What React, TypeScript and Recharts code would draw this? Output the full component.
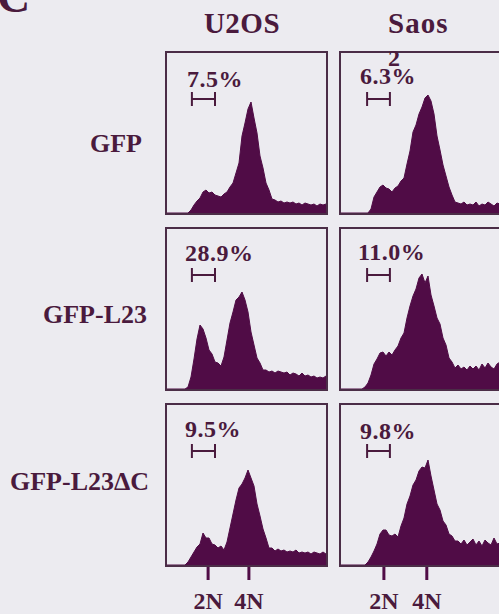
import React from "react";
import { AreaChart, Area, XAxis, YAxis, ReferenceLine } from "recharts";

// ---- labels ----
const cellLines = ["U2OS", "Saos"];
const constructs = ["GFP", "GFP-L23", "GFP-L23ΔC"];
const apoptoticPct = [
  ["7.5%", "6.3%"],
  ["28.9%", "11.0%"],
  ["9.5%", "9.8%"],
];
const ploidyLabels = ["2N", "4N"];
const ploidyTicksU2OS = [13.7, 27.3];
const ploidyTicksSaos = [14.3, 28.6];
const gateU2OS = [8.3, 16];
const gateSaos = [8.7, 16.3];
const gateLevel = 114;

// ---- histogram counts (DNA content channel bins) ----
const u2osGfp = [0, 0, 0, 0, 0, 0, 0, 0, 3, 8, 12, 15, 21, 23, 20, 21, 18, 17, 16, 19, 21, 26, 30, 40, 50, 77, 90, 104, 111, 95, 80, 57, 45, 30, 23, 14, 13, 11, 12, 10, 11, 10, 11, 9, 10, 8, 10, 9, 8, 9, 7, 9, 8, 9];
const saosGfp = [0, 0, 0, 0, 0, 0, 0, 0, 0, 0, 4, 16, 21, 26, 28, 25, 24, 21, 25, 27, 32, 35, 49, 62, 81, 88, 99, 106, 115, 118, 112, 99, 77, 63, 48, 37, 26, 18, 11, 10, 9, 11, 8, 9, 8, 11, 7, 9, 8, 11, 9, 7, 10, 9, 8, 10];
const u2osL23 = [0, 0, 0, 0, 0, 0, 0, 2, 12, 30, 50, 64, 60, 51, 39, 35, 27, 26, 23, 32, 49, 66, 77, 89, 92, 97, 89, 77, 57, 44, 31, 26, 19, 19, 17, 18, 16, 18, 17, 16, 17, 14, 16, 15, 13, 16, 13, 14, 12, 13, 11, 12, 11, 13];
const saosL23 = [0, 0, 0, 0, 0, 0, 0, 0, 2, 6, 14, 25, 30, 36, 37, 33, 37, 34, 39, 43, 51, 56, 71, 83, 93, 100, 111, 115, 106, 113, 94, 83, 71, 65, 51, 44, 31, 27, 21, 24, 20, 22, 19, 23, 20, 23, 19, 25, 21, 26, 22, 20, 25, 27, 21, 24];
const u2osDC = [0, 0, 0, 0, 0, 0, 0, 3, 8, 13, 18, 21, 32, 27, 27, 21, 20, 17, 19, 15, 23, 37, 51, 65, 77, 81, 87, 95, 87, 79, 61, 49, 36, 27, 17, 17, 14, 16, 14, 15, 13, 14, 13, 15, 12, 13, 12, 13, 11, 13, 12, 11, 13, 11];
const saosDC = [0, 0, 0, 0, 0, 0, 0, 0, 0, 3, 8, 14, 21, 31, 35, 35, 30, 29, 31, 28, 39, 47, 61, 69, 80, 85, 94, 98, 97, 105, 89, 75, 61, 55, 44, 40, 31, 29, 24, 24, 21, 25, 20, 23, 26, 20, 24, 19, 25, 22, 20, 27, 21, 22, 24, 21];

const histograms = [
  [u2osGfp, saosGfp],
  [u2osL23, saosL23],
  [u2osDC, saosDC],
];

// ---- style / layout ----
const BG = "#ecebf0";
const FILL = "#500c46";
const TEXT = "#4a1a3d";
const BORDER = "#4b2d47";
const SERIF = "'Liberation Serif', 'DejaVu Serif', 'Times New Roman', serif";

const colLeft = [167, 341];
const colWidth = [159, 165];
const rowTop = [53, 229, 405];
const PLOT_H = 160;
const AXIS_H = 55;

const pctPos = [
  [[187, 87], [360, 84]],
  [[185, 261], [358, 260]],
  [[185, 437], [360, 439]],
];

function Panel({ counts, col, row }: { counts: number[]; col: number; row: number }) {
  const data = counts.map((c, k) => ({ k, c }));
  const bottom = row === 2;
  const gate = col === 0 ? gateU2OS : gateSaos;
  const ticks = col === 0 ? ploidyTicksU2OS : ploidyTicksSaos;
  const w = colWidth[col];
  return (
    <div style={{ position: "absolute", left: colLeft[col], top: rowTop[row] }}>
      <AreaChart
        width={w}
        height={PLOT_H + (bottom ? AXIS_H : 0)}
        data={data}
        margin={{ top: 0, right: 0, bottom: 0, left: 0 }}
      >
        <XAxis
          dataKey="k"
          type="number"
          domain={[0, counts.length - 1]}
          allowDataOverflow
          hide={!bottom}
          height={AXIS_H}
          ticks={ticks}
          interval={0}
          tickFormatter={(v: number) => ploidyLabels[ticks.indexOf(v)] ?? ""}
          axisLine={false}
          tickLine={{ stroke: FILL, strokeWidth: 3 }}
          tickSize={15}
          tickMargin={12}
          tick={{ fill: TEXT, fontSize: 24, fontFamily: SERIF, fontWeight: 700 }}
        />
        <YAxis hide type="number" domain={[0, PLOT_H]} allowDataOverflow />
        <Area
          dataKey="c"
          type="linear"
          stroke={FILL}
          strokeWidth={1}
          fill={FILL}
          fillOpacity={1}
          dot={false}
          activeDot={false}
          isAnimationActive={false}
        />
        <ReferenceLine
          segment={[{ x: gate[0], y: gateLevel }, { x: gate[1], y: gateLevel }]}
          stroke={TEXT}
          strokeWidth={2}
          ifOverflow="visible"
        />
        <ReferenceLine
          segment={[{ x: gate[0], y: gateLevel - 7 }, { x: gate[0], y: gateLevel + 7 }]}
          stroke={TEXT}
          strokeWidth={2}
          ifOverflow="visible"
        />
        <ReferenceLine
          segment={[{ x: gate[1], y: gateLevel - 7 }, { x: gate[1], y: gateLevel + 7 }]}
          stroke={TEXT}
          strokeWidth={2}
          ifOverflow="visible"
        />
      </AreaChart>
    </div>
  );
}

export default function App() {
  return (
    <div
      style={{
        position: "absolute",
        left: 0,
        top: 0,
        width: 499,
        height: 614,
        overflow: "hidden",
        background: BG,
      }}
    >
      {histograms.map((rowH, r) =>
        rowH.map((counts, c) => <Panel key={`${r}-${c}`} counts={counts} col={c} row={r} />)
      )}
      {rowTop.map((t, r) =>
        colLeft.map((l, c) => (
          <div
            key={`b${r}-${c}`}
            style={{
              position: "absolute",
              left: l - 2,
              top: t - 2,
              width: colWidth[c],
              height: PLOT_H,
              border: `2px solid ${BORDER}`,
              pointerEvents: "none",
            }}
          />
        ))
      )}
      <svg
        width={499}
        height={614}
        style={{ position: "absolute", left: 0, top: 0, pointerEvents: "none" }}
        fontFamily={SERIF}
        fontWeight={700}
        fill={TEXT}
      >
        <text x={-3} y={12} fontSize={46}>C</text>
        <text x={242} y={33} fontSize={29} textAnchor="middle" letterSpacing={0.5}>{cellLines[0]}</text>
        <text x={388} y={33} fontSize={29} letterSpacing={1}>{cellLines[1]}</text>
        <text x={388} y={66} fontSize={24}>2</text>
        <text x={90} y={152} fontSize={26}>{constructs[0]}</text>
        <text x={43} y={323} fontSize={26}>{constructs[1]}</text>
        <text x={10} y={490} fontSize={26}>{constructs[2]}</text>
        {pctPos.map((rowP, r) =>
          rowP.map((p, c) => (
            <text key={`p${r}-${c}`} x={p[0]} y={p[1]} fontSize={24} letterSpacing={0.5}>
              {apoptoticPct[r][c]}
            </text>
          ))
        )}
      </svg>
    </div>
  );
}
